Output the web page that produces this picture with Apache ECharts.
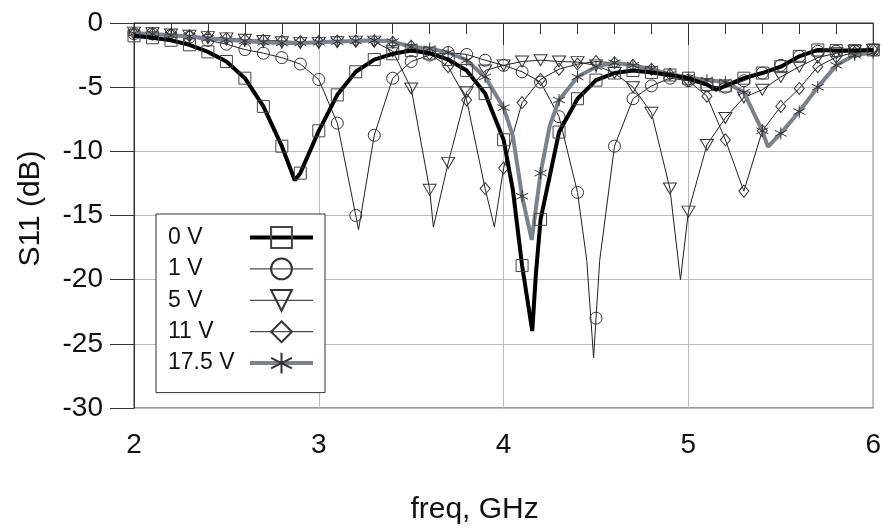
<!DOCTYPE html>
<html>
<head>
<meta charset="utf-8">
<script src="https://cdn.jsdelivr.net/npm/echarts@6/dist/echarts.min.js"></script>
<style>
  html, body { margin: 0; padding: 0; background: #fff; }
  #chart { width: 884px; height: 531px; }
</style>
</head>
<body>
<div id="chart"></div>
<script>
// Marker frequencies (GHz), one marker every 0.1 GHz
const freqGHz = [2.0, 2.1, 2.2, 2.3, 2.4, 2.5, 2.6, 2.7, 2.8, 2.9,
                 3.0, 3.1, 3.2, 3.3, 3.4, 3.5, 3.6, 3.7, 3.8, 3.9,
                 4.0, 4.1, 4.2, 4.3, 4.4, 4.5, 4.6, 4.7, 4.8, 4.9,
                 5.0, 5.1, 5.2, 5.3, 5.4, 5.5, 5.6, 5.7, 5.8, 5.9, 6.0];

// S11 (dB) at the marker frequencies, per bias voltage
const s11_0V = [-1.0, -1.15, -1.35, -1.7, -2.25, -3.0, -4.3, -6.5, -9.6, -11.7,
                -8.4, -5.6, -3.8, -2.85, -2.4, -2.15, -2.35, -2.85, -3.7, -5.5,
                -9.1, -18.9, -15.3, -8.5, -5.9, -4.45, -3.9, -3.7, -3.85, -4.05,
                -4.3, -4.8, -4.9, -4.3, -3.9, -3.4, -2.6, -2.1, -2.15, -2.15, -2.1];
const s11_1V = [-0.83, -0.85, -0.96, -1.1, -1.35, -1.65, -2.07, -2.35, -2.7, -3.2,
                -4.4, -7.8, -15.0, -8.75, -4.3, -3.0, -2.5, -2.3, -2.45, -2.9,
                -3.3, -3.8, -4.6, -7.3, -13.2, -23.0, -9.6, -5.9, -4.9, -4.3,
                -4.5, -4.9, -5.0, -4.5, -3.9, -3.3, -2.6, -2.2, -2.2, -2.2, -2.1];
const s11_5V = [-0.75, -0.8, -0.9, -1.0, -1.1, -1.2, -1.3, -1.4, -1.5, -1.55,
                -1.55, -1.5, -1.45, -1.45, -2.2, -5.1, -13.0, -10.9, -5.4, -3.7,
                -3.3, -3.0, -2.9, -3.0, -3.05, -3.3, -3.9, -5.0, -7.0, -12.9,
                -14.7, -9.5, -7.4, -5.8, -5.2, -4.2, -3.4, -2.7, -2.35, -2.2, -2.1];
const s11_11V = [-0.8, -0.85, -0.9, -1.0, -1.1, -1.2, -1.3, -1.35, -1.4, -1.45,
                 -1.45, -1.4, -1.4, -1.4, -1.5, -1.8, -2.4, -3.4, -6.0, -12.9,
                 -11.3, -6.2, -4.4, -3.6, -3.2, -3.0, -3.1, -3.3, -3.6, -4.0,
                 -4.5, -5.7, -9.1, -13.1, -8.4, -6.5, -5.1, -3.4, -2.65, -2.3, -2.1];
const s11_17V5 = [-0.8, -0.85, -0.95, -1.05, -1.2, -1.3, -1.4, -1.5, -1.55, -1.55,
                  -1.5, -1.45, -1.4, -1.35, -1.45, -1.85, -2.0, -2.3, -2.9, -4.2,
                  -6.6, -13.5, -11.7, -6.0, -4.2, -3.4, -3.1, -3.3, -3.6, -4.0,
                  -4.25, -4.45, -4.6, -5.4, -8.4, -8.6, -6.9, -5.0, -3.3, -2.5, -2.3];

// Extra trace points between markers (resonance minima and steep flanks)
const trace_0V = [[2.87, -12.25], [4.05, -13.0], [4.155, -24.0], [4.175, -19.5], [5.15, -5.2]];
const trace_1V = [[3.215, -16.1], [4.45, -18.5], [4.487, -26.1], [4.52, -18.5]];
const trace_5V = [[3.62, -15.9], [4.957, -20.0]];
const trace_11V = [[3.95, -15.9]];
const trace_17V5 = [[4.05, -8.8], [4.152, -16.9], [4.25, -8.0], [5.43, -9.65]];

const legendNames = ['0 V', '1 V', '5 V', '11 V', '17.5 V'];

const FONT = "'Liberation Sans', Arial, Helvetica, sans-serif";
const STAR = 'path://M0,-10L0,10M-8.66,-5L8.66,5M-8.66,5L8.66,-5';

function buildData(values, trace) {
  const pts = freqGHz.map((f, i) => ({ value: [f, values[i]] }));
  trace.forEach(([f, v]) => pts.push({ value: [f, v], symbol: 'none' }));
  pts.sort((a, b) => a.value[0] - b.value[0]);
  return pts;
}

function makeSeries(name, values, trace, opts) {
  return {
    name: name,
    type: 'line',
    data: buildData(values, trace),
    symbol: opts.symbol,
    symbolSize: opts.size,
    symbolRotate: opts.rotate || 0,
    showAllSymbol: true,
    z: opts.z,
    lineStyle: { color: opts.lineColor, width: opts.lineWidth },
    itemStyle: { color: 'rgba(255,255,255,0)', borderColor: opts.markColor, borderWidth: 1 },
    emphasis: { disabled: true },
    animation: false
  };
}

const chart = echarts.init(document.getElementById('chart'), null, { renderer: 'canvas' });

chart.setOption({
  backgroundColor: '#fff',
  animation: false,
  grid: {
    left: 134, right: 6, top: 23, bottom: 123,
    show: true, borderColor: '#333', borderWidth: 1, backgroundColor: 'transparent'
  },
  xAxis: {
    type: 'value', min: 2, max: 6, interval: 1,
    name: 'freq, GHz', nameLocation: 'middle', nameGap: 87,
    nameTextStyle: { fontFamily: FONT, fontSize: 30, color: '#111', padding: [0, 58, 0, 0] },
    axisLine: { show: true, lineStyle: { color: '#333', width: 1 } },
    axisTick: { show: true, inside: false, length: 22, lineStyle: { color: '#333' } },
    minorTick: { show: true, splitNumber: 5, length: 11, lineStyle: { color: '#333' } },
    axisLabel: { fontFamily: FONT, fontSize: 28, color: '#111', margin: 23 },
    splitLine: { show: true, lineStyle: { color: '#bbb', width: 1 } }
  },
  yAxis: {
    type: 'value', min: -30, max: 0, interval: 5,
    name: 'S11 (dB)', nameLocation: 'middle', nameGap: 88,
    nameTextStyle: { fontFamily: FONT, fontSize: 30, color: '#111', padding: [0, 0, 0, 14] },
    axisLine: { show: true, lineStyle: { color: '#333', width: 1 } },
    axisTick: { show: true, inside: false, length: 24, lineStyle: { color: '#333' } },
    axisLabel: { fontFamily: FONT, fontSize: 28, color: '#111', margin: 31 },
    splitLine: { show: true, lineStyle: { color: '#bbb', width: 1 } }
  },
  legend: {
    orient: 'vertical', left: 156, top: 214, align: 'right',
    padding: [12, 10, 18, 12], itemGap: 8.4, itemWidth: 63, itemHeight: 26,
    backgroundColor: '#fff', borderColor: '#333', borderWidth: 1,
    lineStyle: { width: 'inherit' },
    data: legendNames,
    formatter: function (n) { return '{t|' + n + '}'; },
    textStyle: { rich: { t: { width: 77, align: 'left', fontFamily: FONT, fontSize: 23, color: '#111' } } },
    selectedMode: false,
    z: 10
  },
  series: [
    makeSeries('17.5 V', s11_17V5, trace_17V5, { symbol: STAR, size: 12, z: 3, lineColor: '#78838f', lineWidth: 4, markColor: '#333' }),
    makeSeries('11 V', s11_11V, trace_11V, { symbol: 'diamond', size: [10, 12], z: 2, lineColor: '#222', lineWidth: 1, markColor: '#333' }),
    makeSeries('5 V', s11_5V, trace_5V, { symbol: 'triangle', size: [13, 11], rotate: 180, z: 2, lineColor: '#222', lineWidth: 1, markColor: '#333' }),
    makeSeries('1 V', s11_1V, trace_1V, { symbol: 'circle', size: 12, z: 2, lineColor: '#222', lineWidth: 1, markColor: '#333' }),
    makeSeries('0 V', s11_0V, trace_0V, { symbol: 'rect', size: 12, z: 4, lineColor: '#000', lineWidth: 4, markColor: '#444' })
  ]
});
</script>
</body>
</html>
